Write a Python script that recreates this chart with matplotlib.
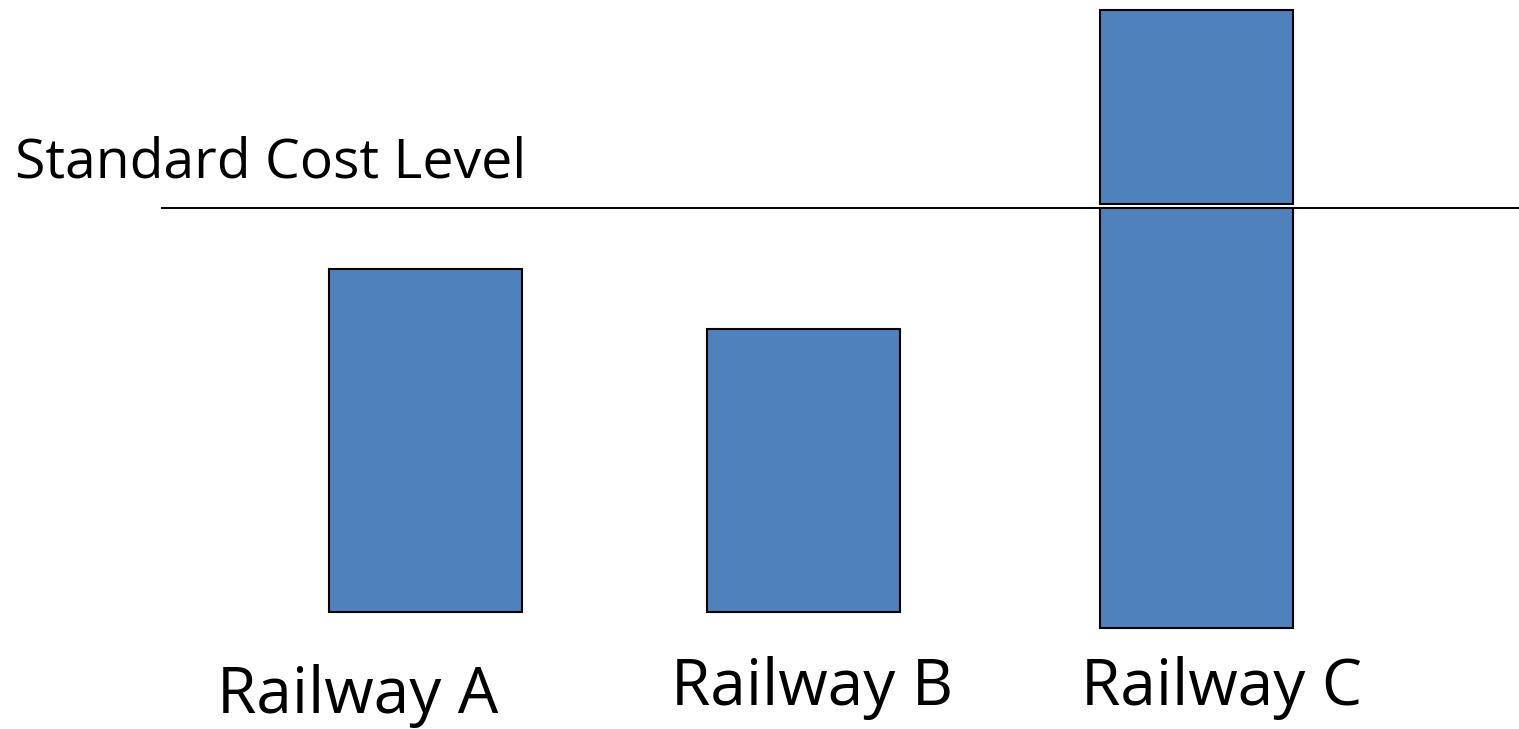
import matplotlib
matplotlib.use("Agg")
import matplotlib.pyplot as plt

# schematic cost data (standard level = 100)
railways = ["Railway A", "Railway B", "Railway C"]
costs = [85, 70, 100]
bar_bottoms = [0, 0, -4]
excess_c = [101, 149]      # part of Railway C above the standard level
standard_level = 100
level_label = "Standard Cost Level"

# layout (pixel-ish x coordinates on a 1519 px wide canvas)
W, H = 1519, 729
xpos = [425.5, 803, 1196.5]
bar_w = 193
label_x = [357.5, 812, 1222]
label_base = [713, 705, 705]
blue = "#4F81BD"

fig = plt.figure(figsize=(W / 100, H / 100), dpi=100)
ax = fig.add_axes([0, 0, 1, 1])
ax.set_xlim(0, W)
px_per_unit = 4.04
ax.set_ylim((612 - H) / px_per_unit, 612 / px_per_unit)
ax.axis("off")

heights = [c - b for c, b in zip(costs, bar_bottoms)]
ax.bar(xpos, heights, bottom=bar_bottoms, width=bar_w, color=blue,
       edgecolor="black", linewidth=1.5)
ax.bar(xpos[2], excess_c[1] - excess_c[0], bottom=excess_c[0], width=bar_w,
       color=blue, edgecolor="black", linewidth=1.5)

ax.plot([162, W], [standard_level, standard_level], color="black", lw=1.4)

fig.text(15 / W, 1 - 177 / H, level_label, fontsize=39.8, family="Open Sans",
         ha="left", va="baseline")
for name, lx, lb in zip(railways, label_x, label_base):
    fig.text(lx / W, 1 - lb / H, name, fontsize=46, family="Open Sans",
             ha="center", va="baseline")

fig.savefig("out.png", dpi=100)
